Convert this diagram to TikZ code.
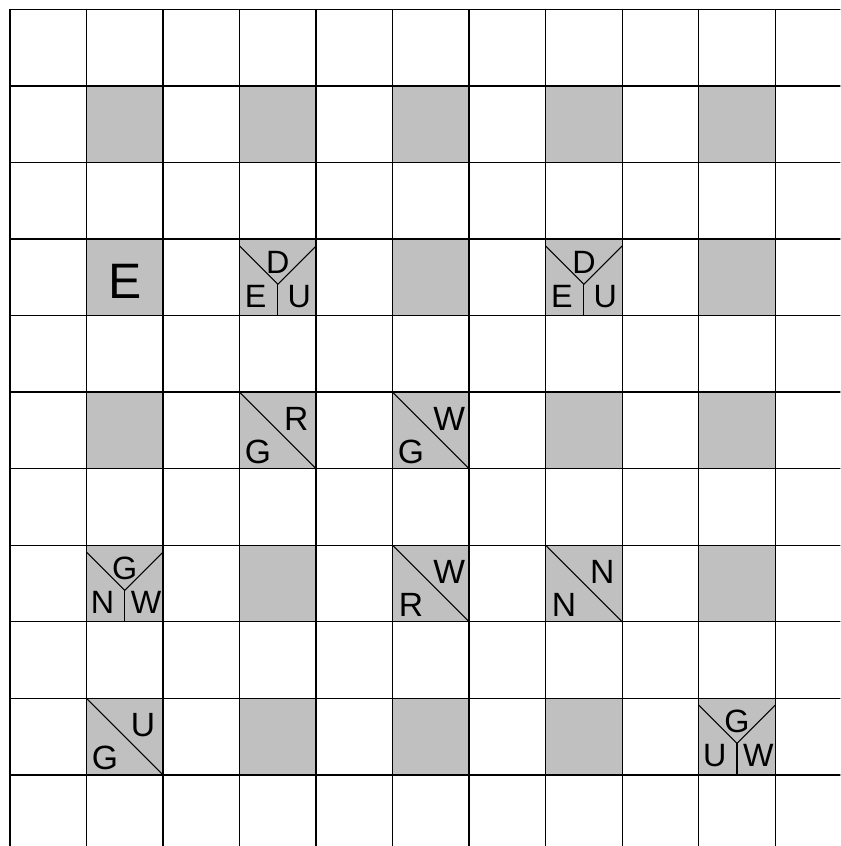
\documentclass[tikz,border=0pt]{standalone}
\usepackage{fontspec}
\setmainfont{Liberation Sans}
\definecolor{cellgray}{HTML}{C0C0C0}
\tikzset{
  gridline/.style={line width=0.5pt, black},
  splitline/.style={line width=0.4pt, black},
  bigletter/.style={font=\fontsize{12.5}{14}\selectfont, inner sep=0pt},
  smallletter/.style={font=\fontsize{12}{13}\selectfont, inner sep=0pt},
  hugeletter/.style={font=\fontsize{18.5}{20}\selectfont, inner sep=0pt}
}
% cell with a diagonal split: column, row, lower-left, upper-right
\newcommand{\diagcell}[4]{%
  \draw[splitline] (#1,-#2) -- (#1+1,-#2-1);
  \node[bigletter] at (#1+0.24,-#2-0.78) {#3};
  \node[bigletter] at (#1+0.74,-#2-0.35) {#4};
}
% cell with a Y split: column, row, top, left, right
\newcommand{\ycell}[5]{%
  \coordinate (mid) at (#1+0.5,-#2-0.59);
  \draw[splitline] (#1,-#2-0.09) -- (mid) -- (#1+1,-#2-0.09);
  \draw[splitline] (mid) -- (#1+0.5,-#2-1);
  \node[smallletter] at (#1+0.5,-#2-0.30) {#3};
  \node[smallletter] at (#1+0.21,-#2-0.75) {#4};
  \node[smallletter] at (#1+0.78,-#2-0.75) {#5};
}
\begin{document}
\begin{tikzpicture}
\useasboundingbox (-0.13,0.124) rectangle (10.85,-10.93);
\clip (-0.13,0.124) rectangle (10.85,-10.93);
% shaded cells
\foreach \c in {1,3,5,7,9}
  \foreach \r in {1,3,5,7,9}
    \fill[cellgray] (\c,-\r) rectangle (\c+1,-\r-1);
% board lines
\foreach \i in {0,...,11} {
  \draw[gridline] (\i,0) -- (\i,-11.5);
  \draw[gridline] (0,-\i) -- (11.5,-\i);
}
% marked cells
\node[hugeletter] (start) at (1.5,-3.55) {E};
\ycell{3}{3}{D}{E}{U}
\ycell{7}{3}{D}{E}{U}
\diagcell{3}{5}{G}{R}
\diagcell{5}{5}{G}{W}
\ycell{1}{7}{G}{N}{W}
\diagcell{5}{7}{R}{W}
\diagcell{7}{7}{N}{N}
\diagcell{1}{9}{G}{U}
\ycell{9}{9}{G}{U}{W}
\end{tikzpicture}
\end{document}
